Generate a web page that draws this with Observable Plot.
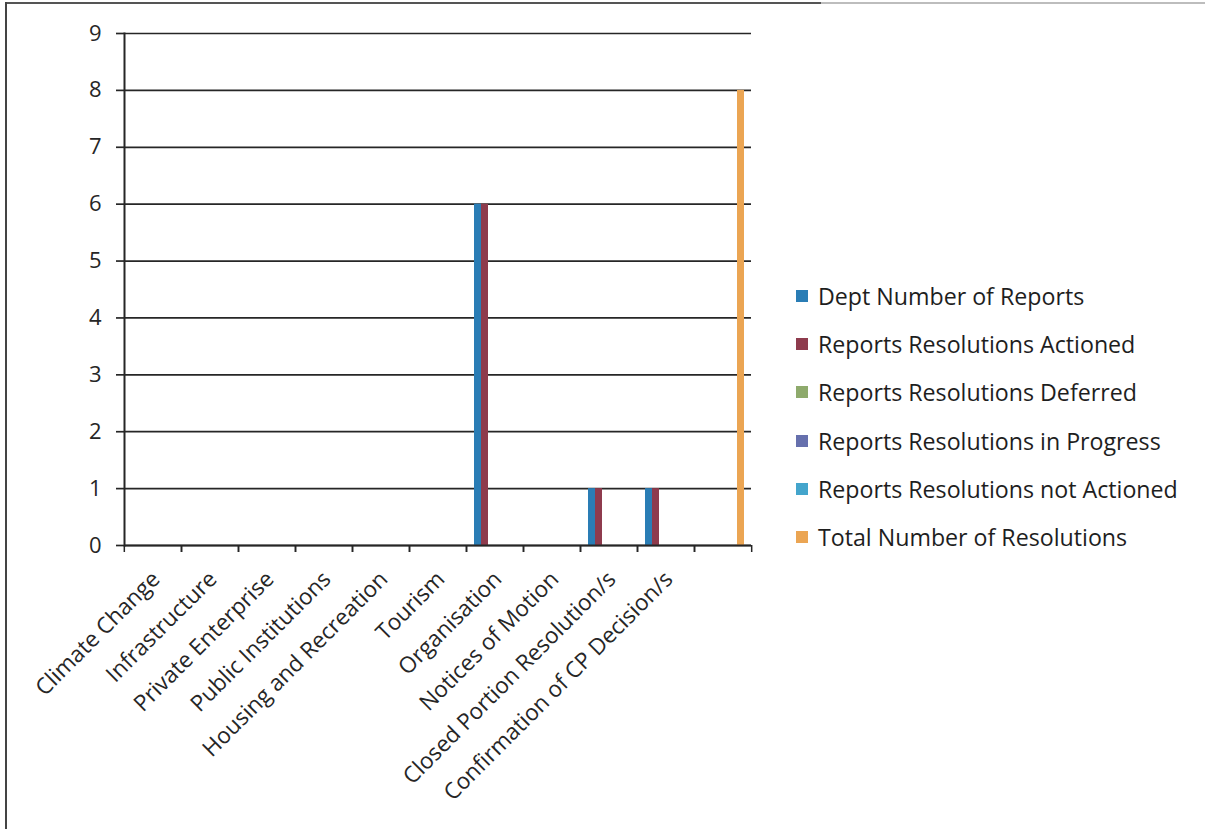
<!DOCTYPE html>
<html>
<head>
<meta charset="utf-8">
<script src="https://cdn.jsdelivr.net/npm/d3@7"></script>
<script src="https://cdn.jsdelivr.net/npm/@observablehq/plot@0.6"></script>
<style>
  html, body { margin: 0; padding: 0; background: #fff; }
  #wrap { position: relative; width: 1205px; height: 829px; overflow: hidden; font-family: "Open Sans", Lato, sans-serif; }
  #wrap svg { position: absolute; left: 0; top: 0; }
  .edge-top { position: absolute; left: 6px; top: 2px; width: 1199px; height: 2px;
    background: linear-gradient(to right, #555 0 68%, #bdbdbd 68% 100%); }
  .edge-left { position: absolute; left: 5px; top: 2px; width: 2px; height: 827px; background: #444; }
  #legend { position: absolute; left: 796px; top: 272px; color: #1e1e1e; font-size: 23.2px; }
  #legend .row { display: flex; align-items: center; height: 48.2px; white-space: nowrap; }
  #legend .sw { width: 12px; height: 12px; margin-right: 10px; flex: none; }
</style>
</head>
<body>
<div id="wrap">
  <div class="edge-top"></div>
  <div class="edge-left"></div>
  <div id="legend"></div>
</div>
<script>
// Committee resolutions by category
const categories = [
  "Climate Change", "Infrastructure", "Private Enterprise", "Public Institutions",
  "Housing and Recreation", "Tourism", "Organisation", "Notices of Motion",
  "Closed Portion Resolution/s", "Confirmation of CP Decision/s", ""
];
const seriesNames = [
  "Dept Number of Reports",
  "Reports Resolutions Actioned",
  "Reports Resolutions Deferred",
  "Reports Resolutions in Progress",
  "Reports Resolutions not Actioned",
  "Total Number of Resolutions"
];
const deptReports = [0, 0, 0, 0, 0, 0, 6, 0, 1, 1, 0];
const actioned    = [0, 0, 0, 0, 0, 0, 6, 0, 1, 1, 0];
const deferred    = [0, 0, 0, 0, 0, 0, 0, 0, 0, 0, 0];
const inProgress  = [0, 0, 0, 0, 0, 0, 0, 0, 0, 0, 0];
const notActioned = [0, 0, 0, 0, 0, 0, 0, 0, 0, 0, 0];
const totalRes    = [0, 0, 0, 0, 0, 0, 0, 0, 0, 0, 8];
const yTicks = [0, 1, 2, 3, 4, 5, 6, 7, 8, 9];
const seriesColors = ["#2a7db5", "#8e3b4d", "#8eaa6c", "#6670ad", "#44a5cc", "#eba553"];

const seriesValues = [deptReports, actioned, deferred, inProgress, notActioned, totalRes];
const rows = [];
categories.forEach((c, i) => {
  seriesNames.forEach((s, j) => rows.push({category: c, series: s, value: seriesValues[j][i]}));
});

const W = 1205, H = 829;
const mL = 122, mR = 452, mT = 33, mB = 284;
const step = (W - mL - mR) / categories.length;
const ink = "#262626";
const font = "'Open Sans', Lato, sans-serif";

const chart = Plot.plot({
  width: W,
  height: H,
  marginLeft: mL,
  marginRight: mR,
  marginTop: mT,
  marginBottom: mB,
  style: {fontFamily: font, fontSize: "20px", color: ink, background: "transparent"},
  fx: {domain: categories, paddingInner: 0, paddingOuter: 0, label: null},
  x: {domain: seriesNames, paddingInner: 0, paddingOuter: 0.9, axis: null},
  y: {domain: [0, 9], label: null},
  color: {domain: seriesNames, range: seriesColors},
  marks: [
    Plot.gridY(yTicks, {stroke: ink, strokeOpacity: 1, strokeWidth: 1.7}),
    Plot.barY(rows, {fx: "category", x: "series", y: "value", fill: "series"}),
    Plot.ruleY([0], {stroke: ink, strokeWidth: 2}),
    // vertical value axis line, on the first category only
    Plot.frame({anchor: "left", fx: [categories[0]], stroke: ink, strokeWidth: 2}),
    Plot.axisY({ticks: yTicks, tickSize: 8, tickPadding: 15, stroke: ink, strokeWidth: 1.7, fontSize: 22, label: null}),
    // category labels
    Plot.axisFx({anchor: "bottom", tickSize: 0, tickRotate: -45, tickPadding: 30, dx: 3, fontSize: 22.5, label: null}),
    // tick marks on the category boundaries
    Plot.axisFx({anchor: "bottom", tickSize: 7, tickFormat: () => "", dx: -step / 2, stroke: ink, strokeWidth: 1.5, label: null}),
    Plot.axisFx({anchor: "bottom", tickSize: 7, tickFormat: () => "", dx: step / 2, stroke: ink, strokeWidth: 1.5, label: null})
  ]
});

const wrap = document.getElementById("wrap");
wrap.insertBefore(chart, wrap.firstChild);

// legend built from the colour scale
const color = chart.scale("color");
const legend = document.getElementById("legend");
color.domain.forEach((name, i) => {
  const row = document.createElement("div");
  row.className = "row";
  const sw = document.createElement("span");
  sw.className = "sw";
  sw.style.background = color.range[i];
  const label = document.createElement("span");
  label.textContent = name;
  row.append(sw, label);
  legend.append(row);
});
</script>
</body>
</html>
